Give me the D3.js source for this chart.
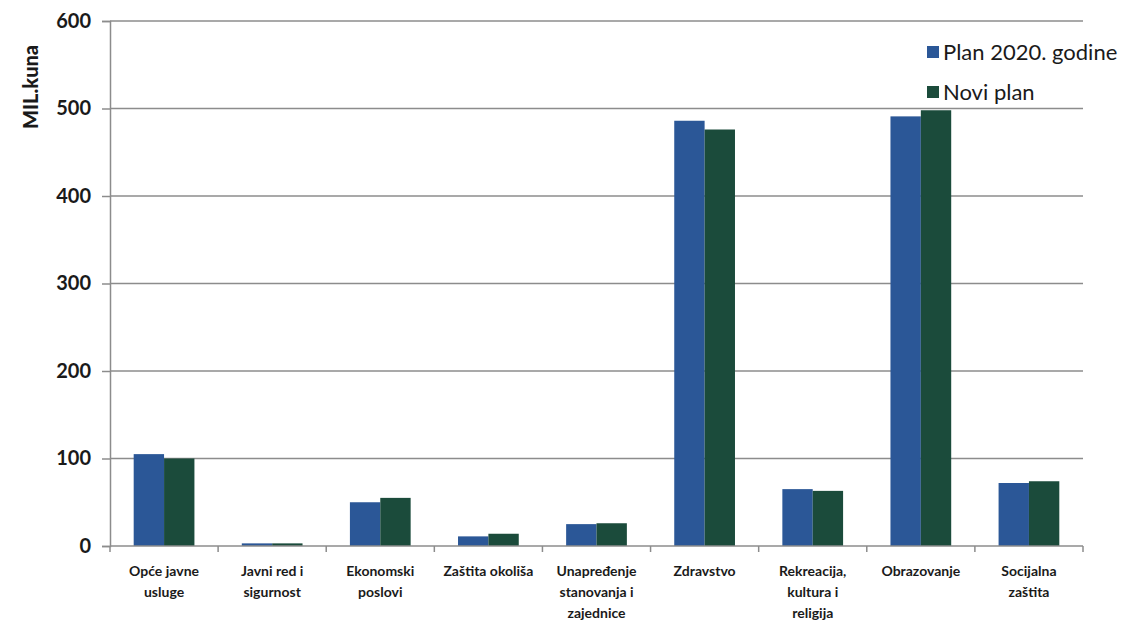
<!DOCTYPE html>
<html>
<head>
<meta charset="utf-8">
<script src="https://cdn.jsdelivr.net/npm/d3@7"></script>
<style>
  body { margin: 0; background: #fff; }
  #chart text { font-family: Lato, "Open Sans", sans-serif; fill: #1a1a1a; }
</style>
</head>
<body>
<div id="chart"></div>
<script>
// Categories and series
const categories = [
  ["Opće javne", "usluge"],
  ["Javni red i", "sigurnost"],
  ["Ekonomski", "poslovi"],
  ["Zaštita okoliša"],
  ["Unapređenje", "stanovanja i", "zajednice"],
  ["Zdravstvo"],
  ["Rekreacija,", "kultura i", "religija"],
  ["Obrazovanje"],
  ["Socijalna", "zaštita"]
];
const plan2020 = [105, 3, 50, 11, 25, 486, 65, 491, 72];
const noviPlan = [100, 3, 55, 14, 26, 476, 63, 498, 74];
const seriesNames = ["Plan 2020. godine", "Novi plan"];
const yTicks = [0, 100, 200, 300, 400, 500, 600];

const width = 1121, height = 620;
const margin = { top: 21, right: 38, bottom: 74, left: 110 };
const colors = ["#2b5797", "#1b4b3b"];

let svg = d3.select("#chart").append("svg")
  .attr("width", width)
  .attr("height", height);

let x = d3.scaleBand()
  .domain(d3.range(categories.length))
  .range([margin.left, width - margin.right])
  .paddingInner(0)
  .paddingOuter(0);

let x1 = d3.scaleBand()
  .domain([0, 1])
  .range([0, x.bandwidth()])
  .paddingOuter(0.78)
  .paddingInner(0);

let y = d3.scaleLinear()
  .domain([0, 600])
  .range([height - margin.bottom, margin.top]);

// Gridlines
svg.append("g")
  .selectAll("line")
  .data(yTicks.slice(1))
  .enter().append("line")
    .attr("x1", margin.left)
    .attr("x2", width - margin.right)
    .attr("y1", d => y(d))
    .attr("y2", d => y(d))
    .attr("stroke", "#8c8c8c")
    .attr("stroke-width", 1.5);

// Y axis
let yAxis = svg.append("g")
  .attr("transform", `translate(${margin.left},0)`)
  .call(d3.axisLeft(y).tickValues(yTicks).tickSize(8).tickPadding(11));
yAxis.select(".domain").attr("stroke", "#8c8c8c").attr("stroke-width", 1.5);
yAxis.selectAll(".tick line").attr("stroke", "#8c8c8c").attr("stroke-width", 1.5);
yAxis.selectAll(".tick text")
  .attr("font-size", 20)
  .attr("font-weight", "bold")
  .attr("fill", "#1a1a1a");

// Bars
let groups = svg.selectAll("g.cat")
  .data(categories.map((c, i) => ({ i, vals: [plan2020[i], noviPlan[i]] })))
  .enter().append("g")
    .classed("cat", true)
    .attr("transform", d => `translate(${x(d.i)},0)`);

groups.selectAll("rect")
  .data(d => d.vals.map((v, s) => ({ v, s })))
  .enter().append("rect")
    .attr("x", d => x1(d.s))
    .attr("width", x1.bandwidth())
    .attr("y", d => y(d.v))
    .attr("height", d => y(0) - y(d.v))
    .attr("fill", d => colors[d.s]);

// X axis
let xAxis = svg.append("g")
  .attr("transform", `translate(0,${y(0)})`);
xAxis.append("line")
  .attr("x1", margin.left)
  .attr("x2", width - margin.right)
  .attr("stroke", "#8c8c8c")
  .attr("stroke-width", 1.5);
xAxis.selectAll("line.tk")
  .data(d3.range(categories.length + 1))
  .enter().append("line")
    .classed("tk", true)
    .attr("x1", d => margin.left + d * x.step())
    .attr("x2", d => margin.left + d * x.step())
    .attr("y1", 0)
    .attr("y2", 6)
    .attr("stroke", "#8c8c8c")
    .attr("stroke-width", 1.5);

// Category labels
let labels = svg.append("g")
  .selectAll("text")
  .data(categories)
  .enter().append("text")
    .attr("text-anchor", "middle")
    .attr("font-size", 14)
    .attr("font-weight", "bold")
    .attr("transform", (d, i) => `translate(${x(i) + x.bandwidth() / 2},${y(0) + 30})`);
labels.selectAll("tspan")
  .data(d => d)
  .enter().append("tspan")
    .attr("x", 0)
    .attr("dy", (d, j) => j === 0 ? 0 : 21)
    .text(d => d);

// Y axis title
svg.append("text")
  .attr("transform", "translate(38,87) rotate(-90)")
  .attr("text-anchor", "middle")
  .attr("font-size", 20)
  .attr("font-weight", 900)
  .text("MIL.kuna");

// Legend
let legend = svg.append("g")
  .selectAll("g")
  .data(seriesNames)
  .enter().append("g")
    .attr("transform", (d, i) => `translate(927,${52 + i * 40})`);
legend.append("rect")
  .attr("x", 0)
  .attr("y", -6)
  .attr("width", 12)
  .attr("height", 12)
  .attr("fill", (d, i) => colors[i]);
legend.append("text")
  .attr("x", 16)
  .attr("dy", "0.35em")
  .attr("font-size", 22)
  .attr("fill", "#263645")
  .text(d => d);
</script>
</body>
</html>
